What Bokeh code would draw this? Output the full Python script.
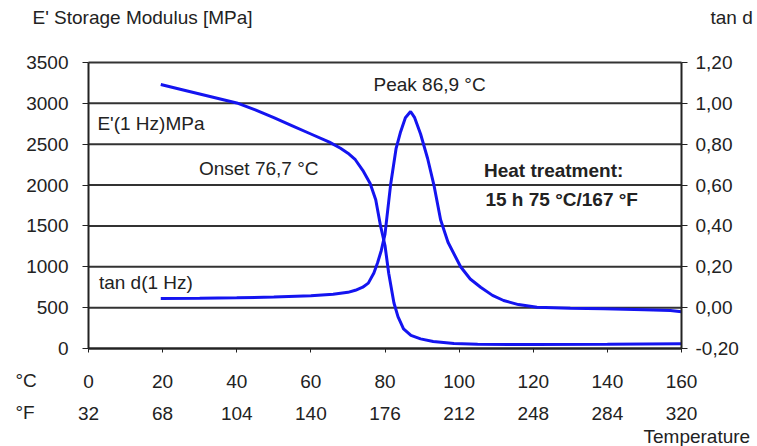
from bokeh.plotting import figure
from bokeh.models import Range1d, LinearAxis, FixedTicker, CustomJSTickFormatter, Label
from bokeh.embed import file_html
from bokeh.resources import INLINE

# ---- data ----
temp_c_ticks = [0, 20, 40, 60, 80, 100, 120, 140, 160]
temp_f_labels = ["32", "68", "104", "140", "176", "212", "248", "284", "320"]
modulus_ticks = [0, 500, 1000, 1500, 2000, 2500, 3000, 3500]
tand_ticks = [-0.2, 0.0, 0.2, 0.4, 0.6, 0.8, 1.0, 1.2]

e_temp = [19.5, 25, 30, 35, 40, 45, 50, 55, 60, 65, 68, 70, 72, 74, 76, 77.5,
          78.8, 80, 81, 82.4, 83.5, 85, 87, 89.6, 93, 98.6, 105, 120, 140, 160]
e_modulus = [3230, 3170, 3115, 3060, 3005, 2920, 2825, 2725, 2625, 2525, 2450,
             2390, 2310, 2180, 2020, 1820, 1500, 1260, 920, 560, 390, 240, 160,
             118, 85, 60, 52, 48, 52, 58]

t_temp = [19.5, 30, 40, 50, 60, 66, 70, 72, 74, 75.5, 77, 78, 79, 80, 81.5, 83,
          84.2, 85.5, 86.9, 88, 89.6, 91.5, 93.2, 95, 97, 100.4, 103, 105.8, 109,
          112, 116, 121, 130, 139, 150, 157, 160]
t_tand = [0.045, 0.046, 0.048, 0.052, 0.058, 0.066, 0.075, 0.085, 0.10, 0.12,
          0.17, 0.22, 0.28, 0.36, 0.60, 0.78, 0.86, 0.93, 0.96, 0.93, 0.85, 0.73,
          0.60, 0.43, 0.32, 0.20, 0.14, 0.10, 0.06, 0.035, 0.015, 0.002, -0.003,
          -0.006, -0.01, -0.014, -0.02]

# ---- layout (pixels on the canvas) ----
W, H = 757, 446
PL, PR, PT, PB = 88, 681, 62, 348      # plot area edges

FONT = "Liberation Sans"
FS = "19px"
TXT = "#222222"
BLUE = "#1414f0"
AX = "#222222"

# ranges chosen so that the data area sits at PL..PR / PT..PB while the
# frame covers the whole canvas (so texts outside the data area are not clipped)
x0, x1 = temp_c_ticks[0], temp_c_ticks[-1]
y0, y1 = modulus_ticks[0], modulus_ticks[-1]
t0, t1 = tand_ticks[0], tand_ticks[-1]
xs = (x1 - x0) / (PR - PL)
ys = (y1 - y0) / (PB - PT)
ts = (t1 - t0) / (PB - PT)

p = figure(width=W, height=H, output_backend="svg", toolbar_location=None,
           title=None,
           x_range=Range1d(x0 - PL * xs, x1 + (W - PR) * xs),
           y_range=Range1d(y0 - (H - PB) * ys, y1 + PT * ys),
           min_border_left=0, min_border_right=0, min_border_top=0,
           min_border_bottom=0)
p.outline_line_color = None
p.background_fill_color = "white"
p.border_fill_color = "white"
p.extra_y_ranges = {"tan": Range1d(t0 - (H - PB) * ts, t1 + PT * ts)}
p.xgrid.visible = False
p.ygrid.visible = False

# horizontal grid lines, one per modulus tick
p.segment(x0=[x0] * len(modulus_ticks), x1=[x1] * len(modulus_ticks),
          y0=modulus_ticks, y1=modulus_ticks, line_color="#333333", line_width=2)

# left axis
la = p.yaxis[0]
la.fixed_location = x0
la.bounds = (y0, y1)
la.ticker = FixedTicker(ticks=modulus_ticks)
la.axis_line_color = AX
la.axis_line_width = 2
la.major_tick_line_color = AX
la.major_tick_out = 6
la.major_tick_in = 0
la.minor_tick_line_color = None
la.major_label_standoff = 14
la.major_label_text_font = FONT
la.major_label_text_font_size = FS
la.major_label_text_color = TXT

# right axis (tan d)
ra = LinearAxis(y_range_name="tan", ticker=FixedTicker(ticks=tand_ticks),
                formatter=CustomJSTickFormatter(code="return tick.toFixed(2).replace('.', ',');"))
ra.fixed_location = x1
ra.bounds = (t0, t1)
ra.axis_line_color = AX
ra.axis_line_width = 2
ra.major_tick_line_color = AX
ra.major_tick_out = 6
ra.major_tick_in = 0
ra.minor_tick_line_color = None
ra.major_label_standoff = 8
ra.major_label_text_font = FONT
ra.major_label_text_font_size = FS
ra.major_label_text_color = TXT
p.add_layout(ra, "right")

# bottom axis (°C)
xa = p.xaxis[0]
xa.fixed_location = y0
xa.bounds = (x0, x1)
xa.ticker = FixedTicker(ticks=temp_c_ticks)
xa.axis_line_color = AX
xa.axis_line_width = 2
xa.major_tick_line_color = AX
xa.major_tick_out = 4
xa.major_tick_in = 0
xa.minor_tick_line_color = None
xa.major_label_standoff = 22
xa.major_label_text_font = FONT
xa.major_label_text_font_size = FS
xa.major_label_text_color = TXT

# second bottom axis (°F)
fa = LinearAxis(ticker=FixedTicker(ticks=temp_c_ticks),
                major_label_overrides={c: f for c, f in zip(temp_c_ticks, temp_f_labels)})
fa.fixed_location = y0
fa.bounds = (x0, x1)
fa.axis_line_color = None
fa.major_tick_line_color = None
fa.minor_tick_line_color = None
fa.major_tick_out = 0
fa.major_tick_in = 0
fa.major_label_standoff = 58
fa.major_label_text_font = FONT
fa.major_label_text_font_size = FS
fa.major_label_text_color = TXT
p.add_layout(fa, "below")

# curves
p.line(e_temp, e_modulus, line_color=BLUE, line_width=3)
p.line(t_temp, t_tand, line_color=BLUE, line_width=3, y_range_name="tan")

# annotations in data space
def dlabel(x, y, text, bold=False):
    p.add_layout(Label(x=x, y=y, text=text, text_font=FONT, text_font_size=FS,
                       text_color=TXT, text_baseline="middle",
                       text_font_style="bold" if bold else "normal"))

dlabel(76.9, 3230, "Peak 86,9 °C")
dlabel(2.4, 2757, "E'(1 Hz)MPa")
dlabel(29.8, 2199, "Onset 76,7 °C")
dlabel(106.7, 2178, "Heat treatment:", bold=True)
dlabel(107.1, 1820, "15 h 75 °C/167 °F", bold=True)
dlabel(2.8, 811, "tan d(1 Hz)")

# texts around the plot area (screen units: x from left, y from bottom)
def slabel(px, py, text):
    p.add_layout(Label(x=px, y=H - py, x_units="screen", y_units="screen", text=text,
                       text_font=FONT, text_font_size=FS, text_color=TXT,
                       text_baseline="middle"))

slabel(32, 17, "E' Storage Modulus [MPa]")
slabel(710, 17, "tan d")
slabel(15, 380, "°C")
slabel(15, 412, "°F")
slabel(643, 436, "Temperature")

open("out.html", "w").write(file_html(p, INLINE))
